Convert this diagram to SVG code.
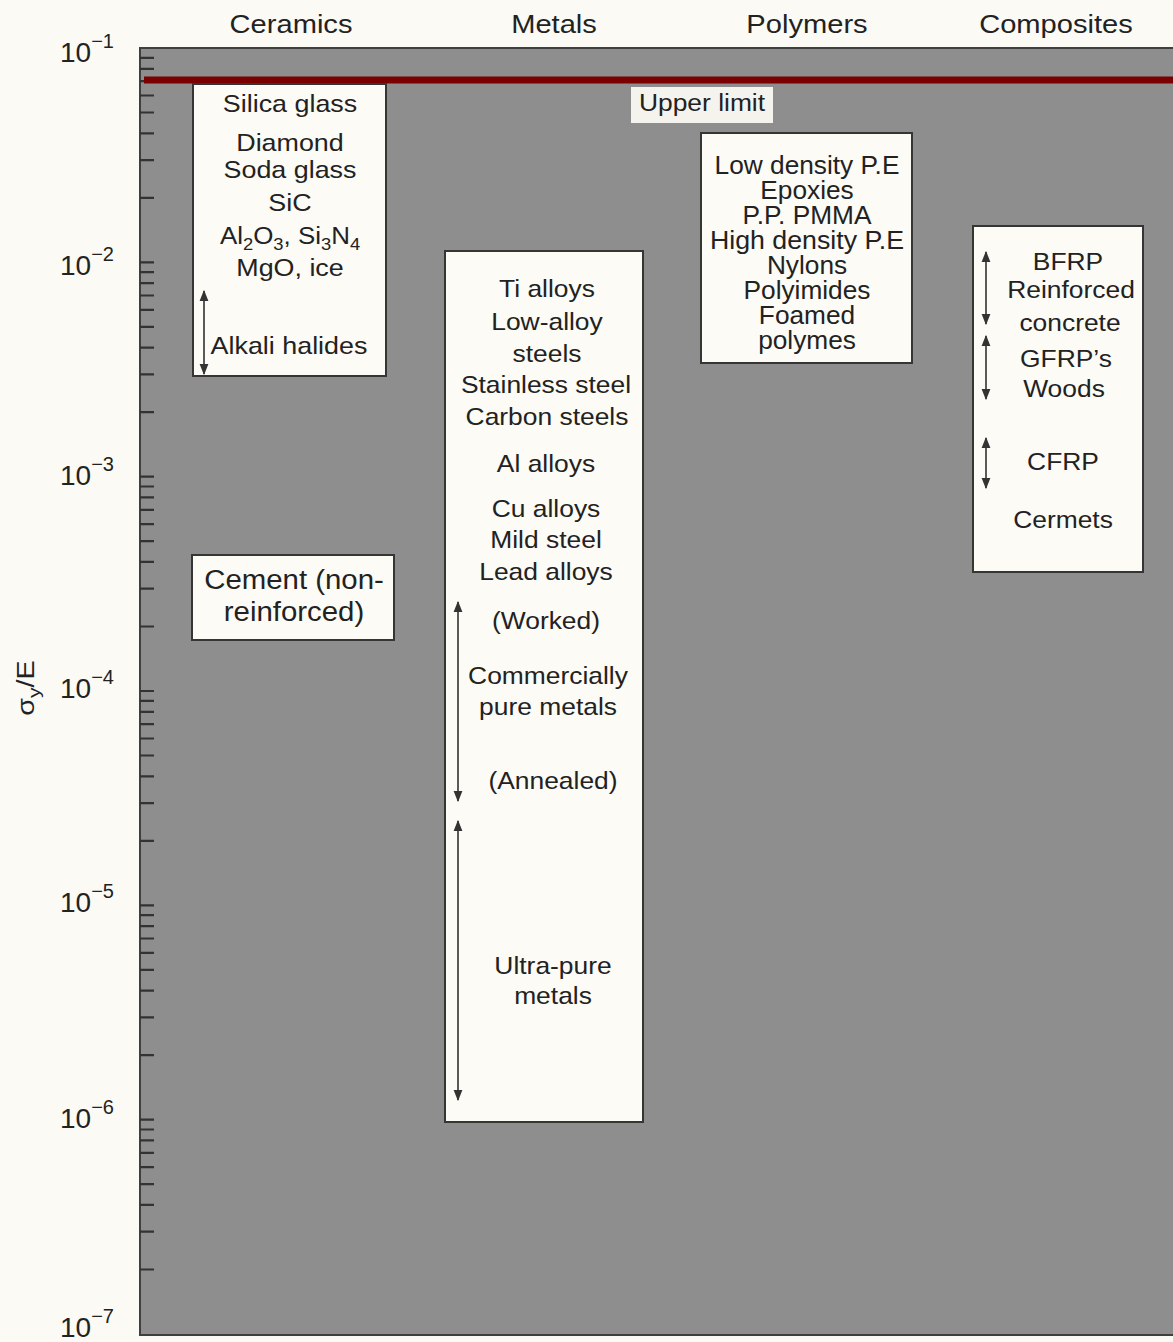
<svg xmlns="http://www.w3.org/2000/svg" width="1173" height="1342" viewBox="0 0 1173 1342">
<style>
text{font-family:"Liberation Sans",Arial,sans-serif;fill:#222}
.title{font-size:26px;text-anchor:middle}
.t{font-size:24px;text-anchor:middle}
.p{font-size:25px;text-anchor:middle}
.c{font-size:28px;text-anchor:middle}
.ax{font-size:28px}
.sup{font-size:20px}
.sub{font-size:17px}
.box{fill:#fcfbf6;stroke:#353535;stroke-width:2}
.arr{stroke:#333;stroke-width:1.6;fill:none;marker-start:url(#ah);marker-end:url(#ah)}
.tick{stroke:#333;stroke-width:2.2;fill:none}
</style>
<defs>
<marker id="ah" viewBox="0 0 10 10" refX="9" refY="5" markerWidth="11" markerHeight="11" markerUnits="userSpaceOnUse" orient="auto-start-reverse">
<path d="M0,1 L10,5 L0,9 z" fill="#333"/>
</marker>
</defs>
<rect width="1173" height="1342" fill="#fbfaf5"/>
<g id="plot">
<rect x="140" y="48" width="1040" height="1287" fill="#8e8e8e" stroke="#3f3f3f" stroke-width="2"/>
<path class="tick" d="M140 57.8h14M140 68.8h14M140 81.2h14M140 95.5h14M140 112.5h14M140 133.3h14M140 160.1h14M140 197.8h14
M140 262.3h14M140 272.1h14M140 283.1h14M140 295.5h14M140 309.9h14M140 326.8h14M140 347.6h14M140 374.4h14M140 412.1h14
M140 476.7h14M140 486.5h14M140 497.4h14M140 509.9h14M140 524.2h14M140 541.2h14M140 561.9h14M140 588.7h14M140 626.5h14
M140 691h14M140 700.8h14M140 711.8h14M140 724.2h14M140 738.5h14M140 755.5h14M140 776.3h14M140 803.1h14M140 840.8h14
M140 905.3h14M140 915.1h14M140 926.1h14M140 938.5h14M140 952.9h14M140 969.8h14M140 990.6h14M140 1017.4h14M140 1055.1h14
M140 1119.7h14M140 1129.5h14M140 1140.4h14M140 1152.9h14M140 1167.2h14M140 1184.2h14M140 1204.9h14M140 1231.7h14M140 1269.5h14"/>
<line x1="144" y1="80" x2="1173" y2="80" stroke="#7b0000" stroke-width="7"/>
</g>
<g id="axis-labels">
<text class="ax" x="60" y="62">10<tspan class="sup" dy="-14">−1</tspan></text>
<text class="ax" x="60" y="275">10<tspan class="sup" dy="-14">−2</tspan></text>
<text class="ax" x="60" y="485">10<tspan class="sup" dy="-14">−3</tspan></text>
<text class="ax" x="60" y="698">10<tspan class="sup" dy="-14">−4</tspan></text>
<text class="ax" x="60" y="912">10<tspan class="sup" dy="-14">−5</tspan></text>
<text class="ax" x="60" y="1128">10<tspan class="sup" dy="-14">−6</tspan></text>
<text class="ax" x="60" y="1337">10<tspan class="sup" dy="-14">−7</tspan></text>
<text transform="translate(34,688) rotate(-90) scale(1.25,1)" style="font-size:23px;text-anchor:middle">σ<tspan class="sub" dy="6">y</tspan><tspan dy="-6">/E</tspan></text>
</g>
<g id="titles">
<text class="title" transform="translate(291,33) scale(1.12,1)">Ceramics</text>
<text class="title" transform="translate(554,33) scale(1.12,1)">Metals</text>
<text class="title" transform="translate(807,33) scale(1.12,1)">Polymers</text>
<text class="title" transform="translate(1056,33) scale(1.12,1)">Composites</text>
</g>
<g id="upper-limit">
<rect x="631" y="87" width="142" height="36" fill="#f4f3ee"/>
<text class="t" transform="translate(702,111) scale(1.1,1)">Upper limit</text>
</g>
<g id="ceramics">
<rect class="box" x="193" y="84" width="193" height="292"/>
<text class="t" transform="translate(290,112) scale(1.12,1)">Silica glass</text>
<text class="t" transform="translate(290,151) scale(1.12,1)">Diamond</text>
<text class="t" transform="translate(290,178) scale(1.12,1)">Soda glass</text>
<text class="t" transform="translate(290,211) scale(1.12,1)">SiC</text>
<text class="t" transform="translate(290,244) scale(1.08,1)">Al<tspan class="sub" dy="6">2</tspan><tspan dy="-6">O</tspan><tspan class="sub" dy="6">3</tspan><tspan dy="-6">, Si</tspan><tspan class="sub" dy="6">3</tspan><tspan dy="-6">N</tspan><tspan class="sub" dy="6">4</tspan></text>
<text class="t" transform="translate(290,276) scale(1.12,1)">MgO, ice</text>
<text class="t" transform="translate(289,354) scale(1.12,1)">Alkali halides</text>
</g>
<g id="cement">
<rect class="box" x="192" y="555" width="202" height="85"/>
<text class="c" transform="translate(294,589) scale(1.05,1)">Cement (non-</text>
<text class="c" transform="translate(294,621) scale(1.05,1)">reinforced)</text>
</g>
<g id="metals">
<rect class="box" x="445" y="251" width="198" height="871"/>
<text class="t" transform="translate(547,297) scale(1.1,1)">Ti alloys</text>
<text class="t" transform="translate(547,330) scale(1.1,1)">Low-alloy</text>
<text class="t" transform="translate(547,362) scale(1.1,1)">steels</text>
<text class="t" transform="translate(546,393) scale(1.1,1)">Stainless steel</text>
<text class="t" transform="translate(547,425) scale(1.1,1)">Carbon steels</text>
<text class="t" transform="translate(546,472) scale(1.1,1)">Al alloys</text>
<text class="t" transform="translate(546,517) scale(1.1,1)">Cu alloys</text>
<text class="t" transform="translate(546,548) scale(1.1,1)">Mild steel</text>
<text class="t" transform="translate(546,580) scale(1.1,1)">Lead alloys</text>
<text class="t" transform="translate(546,629) scale(1.1,1)">(Worked)</text>
<text class="t" transform="translate(548,684) scale(1.1,1)">Commercially</text>
<text class="t" transform="translate(548,715) scale(1.1,1)">pure metals</text>
<text class="t" transform="translate(553,789) scale(1.1,1)">(Annealed)</text>
<text class="t" transform="translate(553,974) scale(1.1,1)">Ultra-pure</text>
<text class="t" transform="translate(553,1004) scale(1.1,1)">metals</text>
</g>
<g id="polymers">
<rect class="box" x="701" y="133" width="211" height="230"/>
<text class="p" transform="translate(807,174) scale(1.05,1)">Low density P.E</text>
<text class="p" transform="translate(807,199) scale(1.05,1)">Epoxies</text>
<text class="p" transform="translate(807,224) scale(1.05,1)">P.P. PMMA</text>
<text class="p" transform="translate(807,249) scale(1.07,1)">High density P.E</text>
<text class="p" transform="translate(807,274) scale(1.05,1)">Nylons</text>
<text class="p" transform="translate(807,299) scale(1.05,1)">Polyimides</text>
<text class="p" transform="translate(807,324) scale(1.05,1)">Foamed</text>
<text class="p" transform="translate(807,349) scale(1.05,1)">polymes</text>
</g>
<g id="composites">
<rect class="box" x="973" y="226" width="170" height="346"/>
<text class="t" transform="translate(1068,270) scale(1.1,1)">BFRP</text>
<text class="t" transform="translate(1071,298) scale(1.1,1)">Reinforced</text>
<text class="t" transform="translate(1070,331) scale(1.1,1)">concrete</text>
<text class="t" transform="translate(1066,367) scale(1.1,1)">GFRP’s</text>
<text class="t" transform="translate(1064,397) scale(1.1,1)">Woods</text>
<text class="t" transform="translate(1063,470) scale(1.1,1)">CFRP</text>
<text class="t" transform="translate(1063,528) scale(1.1,1)">Cermets</text>
</g>
<g id="connectors">
<line class="arr" x1="204" y1="291" x2="204" y2="374"/>
<line class="arr" x1="458" y1="602" x2="458" y2="801"/>
<line class="arr" x1="458" y1="821" x2="458" y2="1100"/>
<line class="arr" x1="986" y1="252" x2="986" y2="324"/>
<line class="arr" x1="986" y1="336" x2="986" y2="399"/>
<line class="arr" x1="986" y1="438" x2="986" y2="488"/>
</g>
</svg>
